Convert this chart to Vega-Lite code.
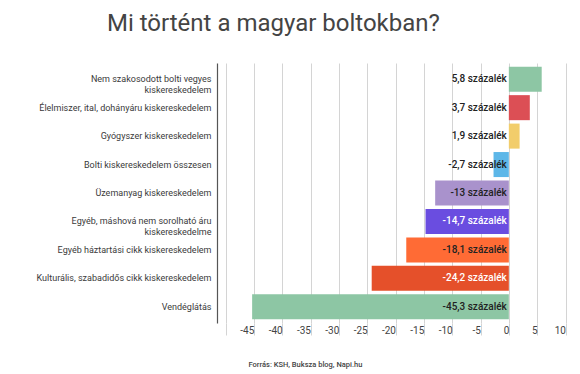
{
  "$schema": "https://vega.github.io/schema/vega-lite/v6.json",
  "width": 357,
  "height": 260,
  "autosize": "none",
  "padding": {"left": 217, "top": 63, "right": 6, "bottom": 51},
  "background": "white",
  "title": {
    "text": "Mi történt a magyar boltokban?",
    "anchor": "start",
    "frame": "group",
    "dx": -110,
    "offset": 8,
    "baseline": "alphabetic",
    "font": "Roboto",
    "fontSize": 24,
    "fontWeight": 400,
    "color": "#444444"
  },
  "data": {
    "values": [
      {"category": "Nem szakosodott bolti vegyes|kiskereskedelem", "value": 5.8, "label": "5,8 százalék"},
      {"category": "Élelmiszer, ital, dohányáru kiskereskedelem", "value": 3.7, "label": "3,7 százalék"},
      {"category": "Gyógyszer kiskereskedelem", "value": 1.9, "label": "1,9 százalék"},
      {"category": "Bolti kiskereskedelem összesen", "value": -2.7, "label": "-2,7 százalék"},
      {"category": "Üzemanyag kiskereskedelem", "value": -13, "label": "-13 százalék"},
      {"category": "Egyéb, máshová nem sorolható áru|kiskereskedelme", "value": -14.7, "label": "-14,7 százalék"},
      {"category": "Egyéb háztartási cikk kiskereskedelem", "value": -18.1, "label": "-18,1 százalék"},
      {"category": "Kulturális, szabadidős cikk kiskereskedelem", "value": -24.2, "label": "-24,2 százalék"},
      {"category": "Vendéglátás", "value": -45.3, "label": "-45,3 százalék"}
    ]
  },
  "encoding": {
    "y": {
      "field": "category",
      "type": "nominal",
      "sort": null,
      "scale": {"paddingInner": 0.12, "paddingOuter": 0.13},
      "axis": {
        "title": null,
        "ticks": false,
        "grid": false,
        "domain": true,
        "domainColor": "#555555",
        "domainWidth": 1.2,
        "labelPadding": 6,
        "labelLimit": 220,
        "labelFont": "Roboto",
        "labelFontSize": 9,
        "labelColor": "#3a3a3a",
        "labelLineHeight": 11,
        "labelExpr": "split(datum.label, '|')"
      }
    }
  },
  "layer": [
    {
      "mark": {"type": "bar"},
      "encoding": {
        "x": {
          "field": "value",
          "type": "quantitative",
          "title": "Forrás: KSH, Buksza blog, Napi.hu",
          "scale": {"domain": [-51.5, 11.5], "nice": false, "zero": false}
        },
        "color": {
          "field": "category",
          "type": "nominal",
          "legend": null,
          "scale": {
            "domain": [
              "Nem szakosodott bolti vegyes|kiskereskedelem",
              "Élelmiszer, ital, dohányáru kiskereskedelem",
              "Gyógyszer kiskereskedelem",
              "Bolti kiskereskedelem összesen",
              "Üzemanyag kiskereskedelem",
              "Egyéb, máshová nem sorolható áru|kiskereskedelme",
              "Egyéb háztartási cikk kiskereskedelem",
              "Kulturális, szabadidős cikk kiskereskedelem",
              "Vendéglátás"
            ],
            "range": ["#8dc6a4", "#dc4f55", "#f2cd6b", "#5db7e8", "#a992cc", "#6a4de0", "#ff6b35", "#e5502a", "#8dc6a4"]
          }
        }
      }
    },
    {
      "mark": {"type": "text", "align": "right", "baseline": "middle", "dx": -2, "font": "Roboto", "fontSize": 10, "fontWeight": 500},
      "encoding": {
        "x": {"datum": 0, "type": "quantitative", "title": "Forrás: KSH, Buksza blog, Napi.hu"},
        "text": {"field": "label"},
        "color": {
          "condition": {"test": "datum.value == -14.7 || datum.value == -24.2", "value": "#ffffff"},
          "value": "#222222"
        }
      }
    }
  ],
  "config": {
    "view": {"stroke": null},
    "axisX": {
      "tickCount": 12,
      "labelExpr": "datum.value == -50 ? '' : toString(datum.value)",
      "labelOverlap": false,
      "grid": true,
      "gridColor": "#d4d4d4",
      "gridWidth": 1,
      "domain": false,
      "ticks": true,
      "tickSize": 12,
      "tickColor": "#d4d4d4",
      "labelAlign": "right",
      "labelDx": -3,
      "labelPadding": -10,
      "labelFont": "Roboto",
      "labelFontSize": 10,
      "labelColor": "#444444",
      "titleFont": "Roboto",
      "titleFontSize": 7.5,
      "titleFontWeight": 500,
      "titleColor": "#444444",
      "titleAnchor": "start",
      "titleAlign": "left",
      "titleX": 31,
      "titleY": 43,
      "titleBaseline": "alphabetic"
    }
  }
}
